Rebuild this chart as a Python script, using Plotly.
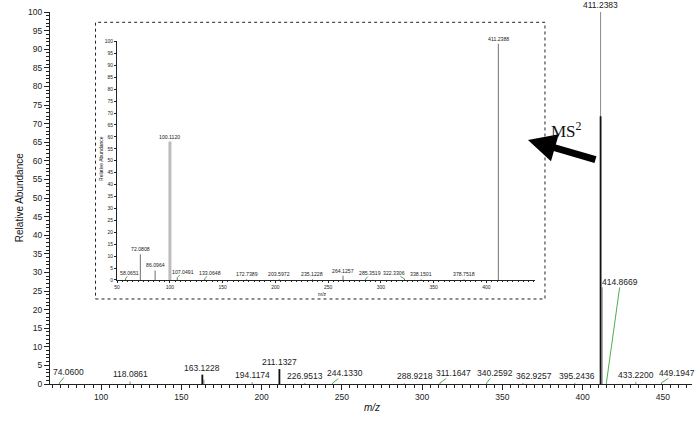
import plotly.graph_objects as go

# main spectrum (full scan)
main_mz = [74.0600, 118.0861, 163.1228, 164.1260, 194.1174, 211.1327, 226.9513, 244.1330,
           288.9218, 311.1647, 340.2592, 362.9257, 395.2436, 411.2383, 412.2415, 414.8669,
           433.2200, 449.1947]
main_int = [0.3, 0.7, 2.5, 1.2, 0.5, 4.0, 0.3, 0.2,
            0.2, 0.3, 0.3, 0.3, 0.3, 100, 26, 0.3,
            0.6, 0.3]
main_labels = ["74.0600", "118.0861", "163.1228", "", "194.1174", "211.1327", "226.9513", "244.1330",
               "288.9218", "311.1647", "340.2592", "362.9257", "395.2436", "411.2383", "", "414.8669",
               "433.2200", "449.1947"]
# darker overlay on the base peak
dark_mz = [411.2383, 163.1228, 211.1327]
dark_int = [72, 2.5, 4.0]

# MS2 inset
ms2_mz = [58.0651, 72.0808, 86.0964, 100.1120, 107.0491, 133.0648, 172.7389, 203.5972,
          235.1228, 264.1257, 285.3519, 322.3306, 338.1501, 378.7518, 411.2388]
ms2_int = [0.5, 10.8, 4.0, 58, 1.0, 0.5, 0.3, 0.3,
           0.3, 1.8, 0.3, 0.5, 0.3, 0.3, 99]
ms2_labels = ["58.0651", "72.0808", "86.0964", "100.1120", "107.0491", "133.0648", "172.7389", "203.5972",
              "235.1228", "264.1257", "285.3519", "322.3306", "338.1501", "378.7518", "411.2388"]

SANS = "Liberation Sans, Arial"
GREEN = "#4cb04c"


def sticks(mz, inten):
    xs, ys = [], []
    for m, h in zip(mz, inten):
        xs += [m, m, None]
        ys += [0, h, None]
    return xs, ys


fig = go.Figure()

x, y = sticks(main_mz, main_int)
fig.add_trace(go.Scatter(x=x, y=y, mode="lines", line=dict(color="#8a8a8a", width=1),
                         hoverinfo="skip", showlegend=False))
x, y = sticks(dark_mz, dark_int)
fig.add_trace(go.Scatter(x=x, y=y, mode="lines", line=dict(color="#111111", width=1.8),
                         hoverinfo="skip", showlegend=False))

x, y = sticks(ms2_mz, ms2_int)
fig.add_trace(go.Scatter(x=x, y=y, mode="lines", line=dict(color="#707070", width=1),
                         xaxis="x2", yaxis="y2", hoverinfo="skip", showlegend=False))
# the 100.1120 fragment is drawn as a broad light bar
fig.add_trace(go.Scatter(x=[ms2_mz[3], ms2_mz[3]], y=[0, ms2_int[3]], mode="lines",
                         line=dict(color="#bdbdbd", width=3),
                         xaxis="x2", yaxis="y2", hoverinfo="skip", showlegend=False))

# label offsets (px) and which labels get a green leader line
main_shift = {"74.0600": (9, -6, True), "244.1330": (13, -5, True), "288.9218": (11, 0, False),
              "311.1647": (14, -5, True), "340.2592": (8, -5, True), "362.9257": (11, 0, False),
              "395.2436": (2, 0, False), "449.1947": (15, -5, True), "414.8669": (14, -96, True)}
ms2_shift = {"58.0651": (4, -3, True), "107.0491": (6, -3, True), "133.0648": (5, -3, True),
             "285.3519": (5, -3, True), "322.3306": (-10, -3, True)}

ann = []
for m, h, t in zip(main_mz, main_int, main_labels):
    if not t:
        continue
    dx, dy, lead = main_shift.get(t, (0, 0, False))
    a = dict(x=m, y=h, text=t, font=dict(family=SANS, size=8.5, color="#222"), borderpad=0)
    if lead:
        a.update(showarrow=True, ax=dx, ay=dy - 5, arrowhead=0, arrowwidth=1,
                 arrowcolor=GREEN, standoff=0)
    else:
        a.update(showarrow=False, yanchor="bottom", yshift=1, xshift=dx)
    ann.append(a)

for m, h, t in zip(ms2_mz, ms2_int, ms2_labels):
    dx, dy, lead = ms2_shift.get(t, (0, 0, False))
    a = dict(x=m, y=h, xref="x2", yref="y2", text=t,
             font=dict(family=SANS, size=5.2, color="#222"), borderpad=0)
    if lead:
        a.update(showarrow=True, ax=dx, ay=dy - 3, arrowhead=0, arrowwidth=1,
                 arrowcolor=GREEN, standoff=0)
    else:
        a.update(showarrow=False, yanchor="bottom", yshift=1, xshift=dx)
    ann.append(a)

# titles
ann.append(dict(x=-0.048, y=0.50, xref="paper", yref="paper", text="Relative Abundance",
                textangle=-90, showarrow=False, xanchor="center", yanchor="middle",
                font=dict(family=SANS, size=10, color="#111")))
ann.append(dict(x=0.5016, y=-0.0645, xref="paper", yref="paper", text="<i>m/z</i>",
                showarrow=False, xanchor="center", yanchor="middle",
                font=dict(family=SANS, size=10, color="#111")))
ann.append(dict(x=0.0795, y=0.605, xref="paper", yref="paper", text="Relative Abundance",
                textangle=-90, showarrow=False, xanchor="center", yanchor="middle",
                font=dict(family=SANS, size=5, color="#111")))
ann.append(dict(x=0.425, y=0.242, xref="paper", yref="paper", text="m/z",
                showarrow=False, xanchor="center", yanchor="middle",
                font=dict(family=SANS, size=5, color="#111")))

# MS2 arrow and text
ann.append(dict(x=0.7445, y=0.656, xref="paper", yref="paper", text="", showarrow=True,
                ax=69, ay=20, arrowhead=2, arrowsize=0.8, arrowwidth=7, arrowcolor="#000",
                standoff=0))
ann.append(dict(x=0.805, y=0.683, xref="paper", yref="paper", text="MS<sup>2</sup>",
                showarrow=False, xanchor="center", yanchor="middle",
                font=dict(family="Liberation Serif, Times New Roman", size=17, color="#111")))

axis_common = dict(showgrid=False, zeroline=False, showline=True, linecolor="#222",
                   linewidth=1, ticks="outside", tickcolor="#222")

fig.update_layout(
    width=700, height=423,
    margin=dict(l=50, r=8, t=12, b=39),
    plot_bgcolor="white", paper_bgcolor="white",
    showlegend=False,
    annotations=ann,
    xaxis=dict(range=[68.2, 468.2], dtick=50, tick0=0, ticklen=5,
               minor=dict(dtick=5, ticklen=3, ticks="outside", tickcolor="#222"),
               tickfont=dict(family=SANS, size=8.5, color="#222"), **axis_common),
    yaxis=dict(range=[0, 100], dtick=5, ticklen=5,
               minor=dict(dtick=1, ticklen=3, ticks="outside", tickcolor="#222"),
               tickfont=dict(family=SANS, size=8.5, color="#222"), **axis_common),
    xaxis2=dict(domain=[0.1044, 0.7555], anchor="y2", range=[50, 446], dtick=50, tick0=0,
                ticklen=2, minor=dict(dtick=5, ticklen=1.5, ticks="outside", tickcolor="#222"),
                tickfont=dict(family=SANS, size=5, color="#222"), **axis_common),
    yaxis2=dict(domain=[0.2796, 0.9207], anchor="x2", range=[0, 100], dtick=5, ticklen=2,
                tickfont=dict(family=SANS, size=5, color="#222"), **axis_common),
    shapes=[dict(type="rect", xref="paper", yref="paper", x0=0.0709, x1=0.771,
                 y0=0.2285, y1=0.9723, line=dict(color="#222", width=1, dash="dot"))],
)

# the page's default body margin would shift the figure by 8px
fig.write_html("out.html", config={"displayModeBar": False},
               post_script="document.body.style.margin='0px';")
